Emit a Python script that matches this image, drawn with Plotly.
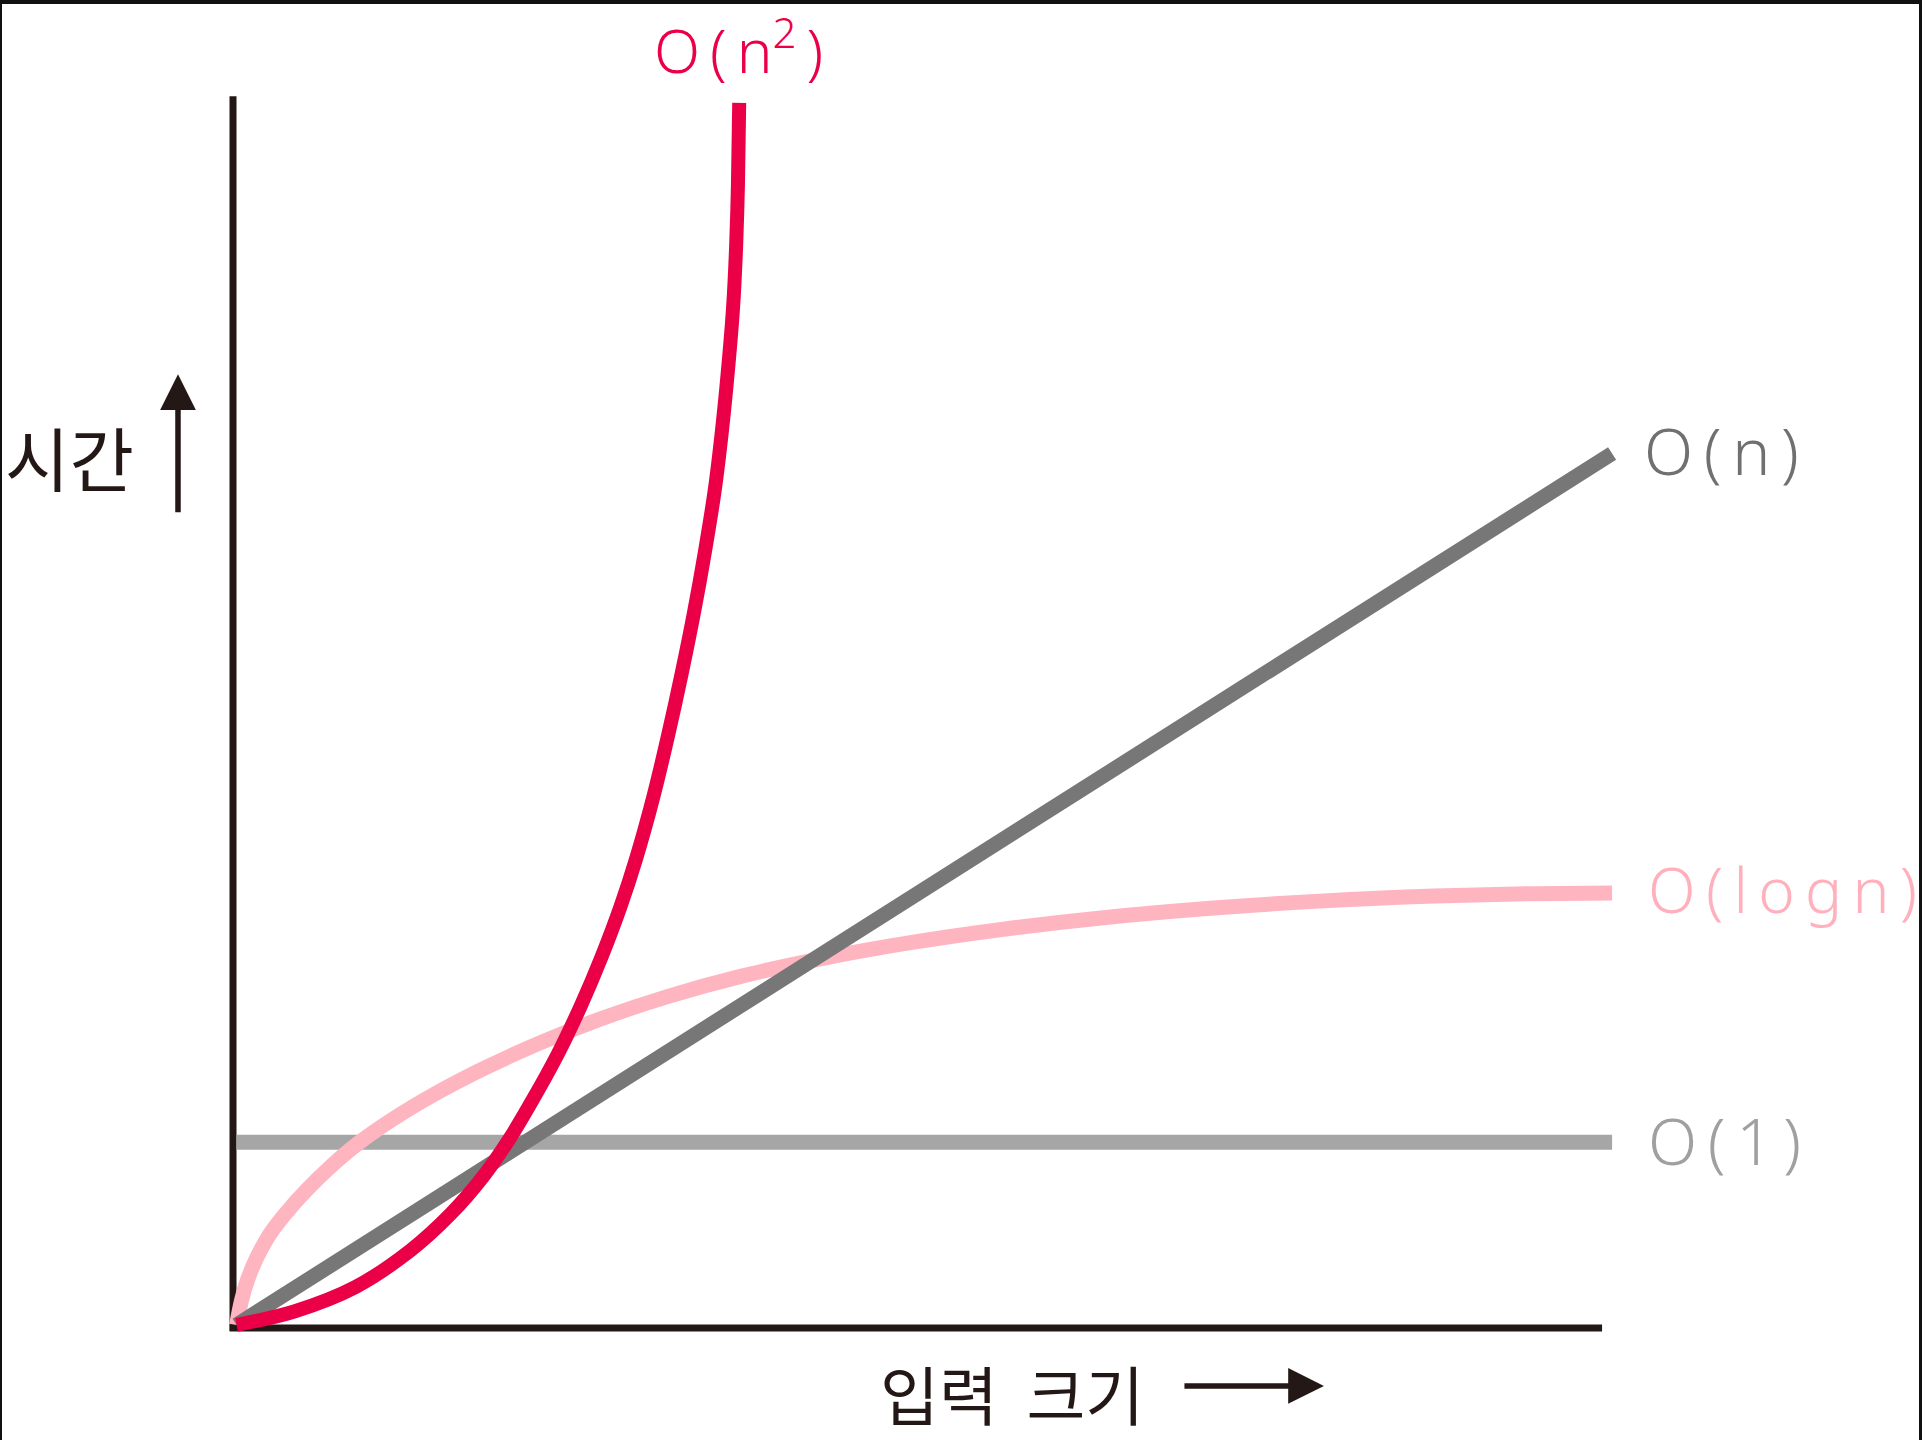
import plotly.graph_objects as go

# ---- data (x: input size, y: time; arbitrary units) ----
n2_x = [0, 4.19, 8.65, 12.66, 15.60, 17.92, 19.79, 21.39, 23.35, 25.05, 26.56, 27.90,
        29.06, 30.30, 31.37, 32.35, 33.25, 34.05, 34.76, 35.30, 35.74, 36.10, 36.32, 36.45, 36.54]
n2_y = [0, 1.55, 4.36, 8.58, 12.80, 17.02, 21.24, 25.46, 31.08, 36.71, 42.34, 47.96,
        53.59, 60.62, 67.65, 74.69, 81.72, 88.75, 95.78, 102.82, 109.85, 116.88, 123.91, 130.95, 140.23]

n_x = [0, 100]
n_y = [0, 100]

log_x = [0, 0.357, 0.802, 1.515, 2.407, 3.565, 5.080, 6.863, 8.824, 11.320, 14.439, 18.004, 22.015,
         26.471, 31.374, 36.722, 42.515, 48.755, 55.885, 63.016, 71.037, 79.059, 87.081, 94.211, 100.0]
log_y = [0, 2.813, 5.204, 7.876, 10.408, 12.799, 15.472, 18.214, 20.816, 23.573, 26.527, 29.452, 32.335,
         35.120, 37.708, 40.029, 42.040, 43.812, 45.443, 46.737, 47.848, 48.665, 49.213, 49.494, 49.579]

c_x = [0, 100]
c_y = [20.96, 20.96]

TS = "\u2009"  # thin space, mimics the loose hand-lettering
labels = [f"O{TS}({TS}n<sup>2</sup>{TS})", f"O{TS}({TS}n{TS})",
          f"O{TS}({TS}l{TS}o{TS}g{TS}n{TS})", f"O{TS}({TS}1{TS})"]
y_title = "시간"
x_title = "입력\u00a0\u00a0크기"

RED = "#EB0048"
PINK = "#FFB5C0"
DGRAY = "#777777"
LGRAY = "#A6A6A6"
INK = "#231815"

fig = go.Figure()
fig.add_trace(go.Scatter(x=c_x, y=c_y, mode="lines", line=dict(color=LGRAY, width=15), hoverinfo="skip"))
fig.add_trace(go.Scatter(x=log_x, y=log_y, mode="lines",
                         line=dict(color=PINK, width=15, shape="spline", smoothing=1.0), hoverinfo="skip"))
fig.add_trace(go.Scatter(x=n_x, y=n_y, mode="lines", line=dict(color=DGRAY, width=15), hoverinfo="skip"))
fig.add_trace(go.Scatter(x=n2_x, y=n2_y, mode="lines",
                         line=dict(color=RED, width=14, shape="spline", smoothing=0.9), hoverinfo="skip"))

# axes drawn as lines
fig.add_shape(type="line", x0=-0.26, x1=-0.26, y0=-0.7, y1=141.0, xref="x", yref="y",
              line=dict(color=INK, width=7), layer="below")
fig.add_shape(type="line", x0=-0.5, x1=99.27, y0=-0.34, y1=-0.34, xref="x", yref="y",
              line=dict(color=INK, width=7), layer="below")

# frame (top, left, right)
fig.add_shape(type="rect", xref="paper", yref="paper", x0=0, x1=1, y0=1 - 4 / 1440, y1=1,
              fillcolor="#111111", line_width=0)
fig.add_shape(type="rect", xref="paper", yref="paper", x0=0, x1=2 / 1922, y0=0, y1=1,
              fillcolor="#111111", line_width=0)
fig.add_shape(type="rect", xref="paper", yref="paper", x0=1 - 3 / 1922, x1=1, y0=0, y1=1,
              fillcolor="#111111", line_width=0)

LF = "Noto Sans"
KF = "Noto Sans CJK KR"
fig.add_annotation(x=36.5, y=146.6, text=labels[0], showarrow=False, xanchor="center", yanchor="middle",
                   font=dict(family=LF, size=60, color=RED, weight=300))
fig.add_annotation(x=102.2, y=100.4, text=labels[1], showarrow=False, xanchor="left", yanchor="middle",
                   font=dict(family=LF, size=64, color="#707070", weight=300))
fig.add_annotation(x=102.5, y=50.0, text=labels[2], showarrow=False, xanchor="left", yanchor="middle",
                   font=dict(family=LF, size=62, color="#FFB0BC", weight=300))
fig.add_annotation(x=102.5, y=21.2, text=labels[3], showarrow=False, xanchor="left", yanchor="middle",
                   font=dict(family=LF, size=64, color="#A0A0A0", weight=300))

fig.add_annotation(x=-17.0, y=99.6, text=y_title, showarrow=False, xanchor="left", yanchor="middle",
                   font=dict(family=KF, size=70, color=INK))
fig.add_annotation(x=46.6, y=-7.7, text=x_title, showarrow=False, xanchor="left", yanchor="middle",
                   font=dict(family=KF, size=64, color=INK))

# direction arrows
fig.add_annotation(x=-4.26, y=109.1, ax=-4.26, ay=93.1, xref="x", yref="y", axref="x", ayref="y",
                   text="", showarrow=True, arrowhead=2, arrowwidth=5.5, arrowsize=1.3, arrowcolor=INK)
fig.add_annotation(x=79.05, y=-7.0, ax=68.8, ay=-7.0, xref="x", yref="y", axref="x", ayref="y",
                   text="", showarrow=True, arrowhead=2, arrowwidth=5.5, arrowsize=1.3, arrowcolor=INK)

fig.update_layout(
    width=1922, height=1440,
    margin=dict(l=0, r=0, t=0, b=0),
    paper_bgcolor="white", plot_bgcolor="white",
    showlegend=False,
    xaxis=dict(range=[-17.20, 122.53], visible=False, fixedrange=True),
    yaxis=dict(range=[-13.20, 152.04], visible=False, fixedrange=True),
)

fig.write_html("out.html", config={"displayModeBar": False},
               post_script="document.body.style.margin='0';document.body.style.overflow='hidden';")
